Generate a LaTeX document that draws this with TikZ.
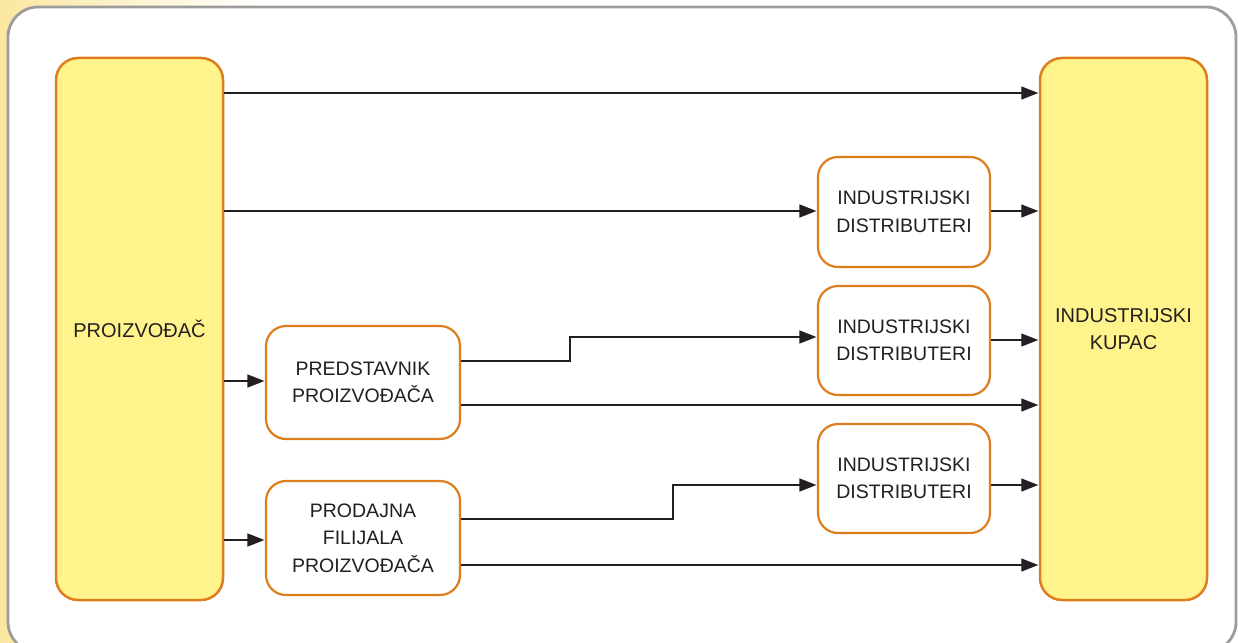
\documentclass[tikz,border=0pt]{standalone}
\usepackage{fontspec}
\setmainfont{Liberation Sans}
\usetikzlibrary{arrows.meta,calc}
\definecolor{bgyellow}{HTML}{FBE7A0}
\definecolor{framegray}{HTML}{9C9C9C}
\definecolor{boxorange}{HTML}{DE7D1E}
\definecolor{boxyellow}{HTML}{FFF48B}
\definecolor{ink}{HTML}{231F20}
\tikzset{
  bigbox/.style={draw=boxorange, line width=2.5pt, fill=boxyellow, rounded corners=22pt, align=center, text=ink, font=\fontsize{20}{27.5}\selectfont, inner sep=0pt},
  smallbox/.style={draw=boxorange, line width=2.2pt, fill=white, rounded corners=20pt, align=center, text=ink, font=\fontsize{19.5}{27.5}\selectfont, inner sep=0pt},
  arr/.style={draw=ink, line width=1.3pt, -{Triangle[length=17pt,width=13pt]}, shorten >=0.5pt}
}
\begin{document}
\begin{tikzpicture}[x=1pt,y=1pt]
\useasboundingbox (0,0) rectangle (1238,-642);
\fill[white] (0,0) rectangle (1238,-642);
\shade[left color=bgyellow, right color=white] (0,0) rectangle (260,-642);
\draw[framegray, line width=2.8pt, fill=white, rounded corners=30pt] (8,-7) rectangle (1236,-652);

\node[bigbox, minimum width=167pt, minimum height=542pt] (P) at (139.5,-329) {PROIZVOĐAČ};
\node[bigbox, minimum width=167pt, minimum height=542pt] (K) at (1123.5,-329) {INDUSTRIJSKI\\KUPAC};
\node[smallbox, minimum width=172pt, minimum height=110pt] (D1) at (904,-212) {INDUSTRIJSKI\\DISTRIBUTERI};
\node[smallbox, minimum width=172pt, minimum height=109pt] (D2) at (904,-340.5) {INDUSTRIJSKI\\DISTRIBUTERI};
\node[smallbox, minimum width=172pt, minimum height=109pt] (D3) at (904,-478.5) {INDUSTRIJSKI\\DISTRIBUTERI};
\node[smallbox, minimum width=194pt, minimum height=113pt] (PR) at (363,-382.5) {PREDSTAVNIK\\PROIZVOĐAČA};
\node[smallbox, minimum width=194pt, minimum height=114pt] (PF) at (363,-538) {PRODAJNA\\FILIJALA\\PROIZVOĐAČA};

\draw[arr] (P.east |- 0,-93) -- (K.west |- 0,-93);
\draw[arr] (P.east |- 0,-211) -- (D1.west |- 0,-211);
\draw[arr] (D1.east |- 0,-211) -- (K.west |- 0,-211);
\draw[arr] (P.east |- 0,-381) -- (PR.west |- 0,-381);
\draw[arr] (P.east |- 0,-540) -- (PF.west |- 0,-540);
\draw[arr] (PR.east |- 0,-361) -- (570,-361) |- (D2.west |- 0,-337);
\draw[arr] (D2.east |- 0,-340) -- (K.west |- 0,-340);
\draw[arr] (PR.east |- 0,-405) -- (K.west |- 0,-405);
\draw[arr] (PF.east |- 0,-519) -- (673,-519) |- (D3.west |- 0,-485);
\draw[arr] (D3.east |- 0,-485) -- (K.west |- 0,-485);
\draw[arr] (PF.east |- 0,-565) -- (K.west |- 0,-565);
\end{tikzpicture}
\end{document}
